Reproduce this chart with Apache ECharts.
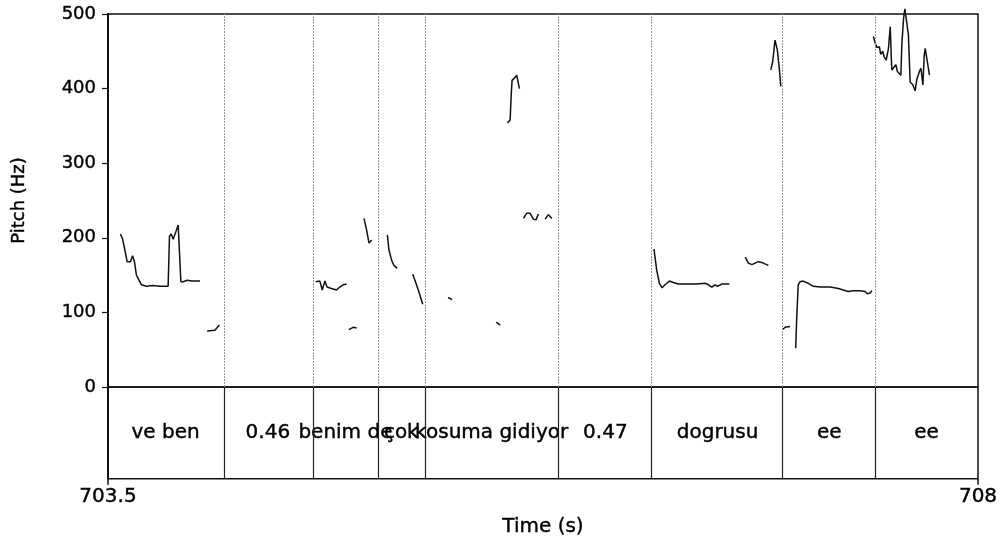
<!DOCTYPE html>
<html>
<head>
<meta charset="utf-8">
<script src="https://cdn.jsdelivr.net/npm/echarts@6/dist/echarts.min.js"></script>
<style>
  html, body { margin: 0; padding: 0; background: #fff; }
  #main { width: 1008px; height: 538px; }
</style>
</head>
<body>
<div id="main"></div>
<script>
// pitch contour pieces, [time (s), pitch (Hz)]
let seg1 = [[703.564,205],[703.575,199],[703.587,184],[703.599,168],[703.616,168],[703.627,176],[703.637,168],[703.647,150],[703.661,143],[703.673,137],[703.699,135],[703.733,136],[703.768,135],[703.811,135],[703.818,202],[703.827,205],[703.837,198],[703.851,208],[703.863,217],[703.868,217],[703.877,141],[703.889,141],[703.910,143],[703.933,142],[703.976,142]];
let seg2 = [[704.013,75],[704.053,76],[704.076,83]];
let seg3 = [[704.575,141],[704.596,142],[704.608,130],[704.622,142],[704.633,134],[704.656,132],[704.682,130],[704.699,134],[704.716,137],[704.734,138]];
let seg4 = [[704.746,77],[704.768,80],[704.786,79]];
let seg5 = [[704.824,226],[704.838,210],[704.850,193],[704.864,197]];
let seg6 = [[704.945,204],[704.953,184],[704.967,170],[704.979,163],[704.996,159]];
let seg7 = [[705.076,151],[705.093,139],[705.110,126],[705.128,111]];
let seg8 = [[705.259,120],[705.280,117]];
let seg9 = [[705.508,87],[705.529,83]];
let seg10 = [[705.566,354],[705.580,358],[705.586,394],[705.590,411],[705.606,415],[705.614,418],[705.628,400]];
let seg11 = [[705.649,226],[705.666,233],[705.683,233],[705.700,225],[705.714,224],[705.726,232]];
let seg12 = [[705.761,225],[705.778,231],[705.796,226]];
let seg13 = [[706.324,185],[706.338,157],[706.352,139],[706.366,133],[706.381,137],[706.404,142],[706.424,140],[706.450,138],[706.494,138],[706.545,138],[706.588,139],[706.606,137],[706.623,134],[706.640,137],[706.652,135],[706.675,138],[706.714,138]];
let seg14 = [[706.796,174],[706.812,166],[706.830,164],[706.847,166],[706.864,168],[706.881,167],[706.898,165],[706.916,163]];
let seg15 = [[706.928,425],[706.938,436],[706.950,465],[706.956,466],[706.962,452],[706.973,425],[706.980,403]];
let seg16 = [[706.990,77],[707.002,80],[707.028,81]];
let seg17 = [[707.057,52],[707.062,90],[707.070,137],[707.079,141],[707.096,142],[707.122,139],[707.148,135],[707.183,134],[707.235,134],[707.278,132],[707.303,130],[707.329,128],[707.355,129],[707.390,129],[707.416,128],[707.428,125],[707.442,126],[707.451,129]];
let seg18 = [[707.459,470],[707.468,461],[707.477,455],[707.490,456],[707.497,446],[707.508,450],[707.514,443],[707.525,438],[707.537,454],[707.546,483],[707.554,425],[707.566,429],[707.575,432],[707.583,423],[707.601,418],[707.606,459],[707.615,494],[707.622,507],[707.632,507],[707.640,472],[707.649,409],[707.663,405],[707.675,397],[707.684,413],[707.697,423],[707.705,427],[707.715,405],[707.722,445],[707.727,454],[707.736,452],[707.749,418]];

let segments = [seg1, seg2, seg3, seg4, seg5, seg6, seg7, seg8, seg9, seg10, seg11, seg12, seg13, seg14, seg15, seg16, seg17, seg18];

// text tier
let bounds = [704.096, 704.558, 704.898, 705.136, 705.833, 706.312, 706.994, 707.467];
let words = ['ve ben', '0.46', 'benim de', 'çok', 'kosuma gidiyor', '0.47', 'dogrusu', 'ee', 'ee'];

let tMin = 703.5, tMax = 708;
let pitchTicks = [0, 100, 200, 300, 400, 500];

let font = "'DejaVu Sans', Arial, sans-serif";
// slight stroke to get the heavy look of the original text
let ink = { color: '#000', fontFamily: font, textBorderColor: '#000', textBorderWidth: 0.4 };
let myChart = echarts.init(document.getElementById('main'));

let edges = [tMin].concat(bounds, [tMax]);
let wordPoints = words.map(function (w, i) {
    return { name: w, value: [(edges[i] + edges[i + 1]) / 2, 0.5] };
});

let series = segments.map(function (s) {
    return {
        type: 'line',
        xAxisIndex: 0,
        yAxisIndex: 0,
        data: s,
        showSymbol: false,
        symbol: 'none',
        clip: false,
        silent: true,
        lineStyle: { color: '#111', width: 1.5 }
    };
});

// dotted boundaries in the pitch panel
series.push({
    type: 'line',
    xAxisIndex: 0,
    yAxisIndex: 0,
    data: [],
    markLine: {
        silent: true,
        symbol: 'none',
        label: { show: false },
        lineStyle: { color: '#999', type: [2, 1], width: 1 },
        data: bounds.map(function (b) { return { xAxis: b }; })
    }
});

// tier words and solid boundaries
series.push({
    type: 'scatter',
    xAxisIndex: 1,
    yAxisIndex: 1,
    symbolSize: 1,
    itemStyle: { color: 'rgba(0,0,0,0)', opacity: 1 },
    silent: true,
    data: wordPoints,
    label: Object.assign({
        show: true,
        position: 'inside',
        formatter: '{b}',
        fontSize: 20
    }, ink),
    markLine: {
        silent: true,
        symbol: 'none',
        label: { show: false },
        lineStyle: { color: '#222', type: 'solid', width: 1.2 },
        data: bounds.map(function (b) { return { xAxis: b }; })
    }
});

let option = {
    backgroundColor: '#fff',
    animation: false,
    grid: [
        { left: 108, right: 30, top: 14, height: 373, show: true, borderColor: '#111', borderWidth: 1.5 },
        { left: 108, right: 30, top: 387, height: 93, show: true, borderColor: '#111', borderWidth: 1.5 }
    ],
    xAxis: [
        {
            type: 'value', gridIndex: 0, min: tMin, max: tMax,
            axisLine: { show: false }, axisTick: { show: false },
            axisLabel: { show: false }, splitLine: { show: false }
        },
        {
            type: 'value', gridIndex: 1, min: tMin, max: tMax,
            name: 'Time (s)', nameLocation: 'middle', nameGap: 38,
            nameTextStyle: Object.assign({ fontSize: 20 }, ink),
            axisLine: { show: false },
            axisTick: { show: true, customValues: [tMin, tMax], length: 6, lineStyle: { color: '#111', width: 1.5 } },
            axisLabel: Object.assign({
                customValues: [tMin, tMax], fontSize: 20, margin: 8,
                formatter: function (v) { return String(v); }
            }, ink),
            splitLine: { show: false }
        }
    ],
    yAxis: [
        {
            type: 'value', gridIndex: 0, min: 0, max: 500, interval: 100,
            name: 'Pitch (Hz)', nameLocation: 'middle', nameGap: 80,
            nameTextStyle: Object.assign({ fontSize: 18 }, ink),
            axisLine: { show: true, lineStyle: { color: '#111', width: 2 } },
            axisTick: { show: true, length: 6, lineStyle: { color: '#111', width: 1.2 } },
            axisLabel: Object.assign({ fontSize: 18, margin: 12,
                formatter: function (v) { return pitchTicks.indexOf(v) >= 0 ? String(v) : ''; } }, ink),
            splitLine: { show: false }
        },
        {
            type: 'value', gridIndex: 1, min: 0, max: 1,
            axisLine: { show: true, lineStyle: { color: '#111', width: 2 } },
            axisTick: { show: false }, axisLabel: { show: false }, splitLine: { show: false }
        }
    ],
    series: series
};
myChart.setOption(option);
</script>
</body>
</html>
